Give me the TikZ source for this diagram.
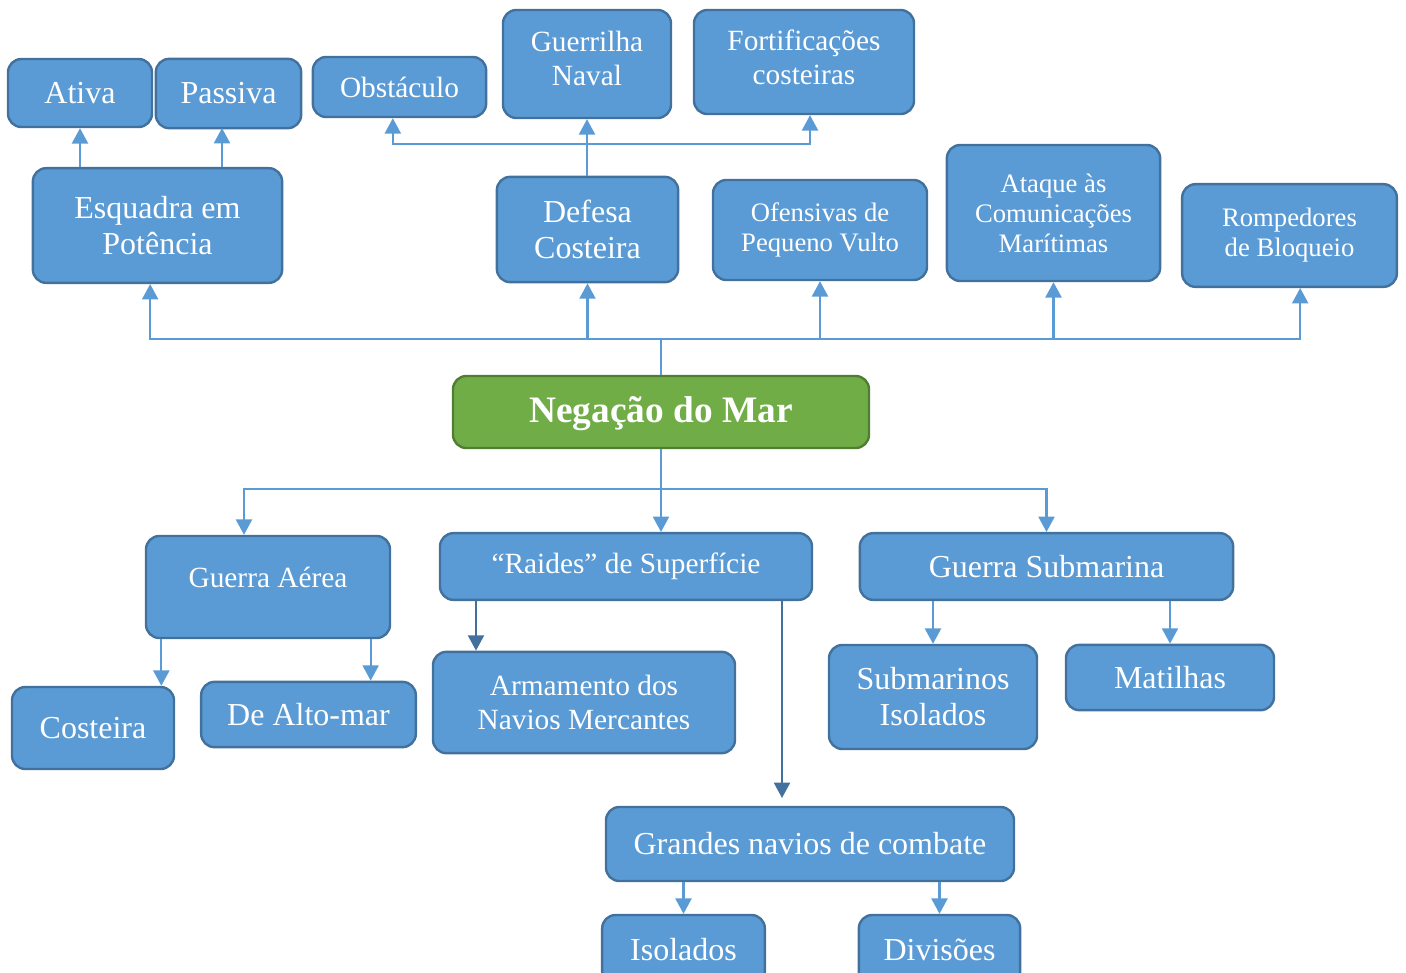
\documentclass[tikz,border=0pt]{standalone}
\usepackage{fontspec}
\setmainfont{Liberation Serif}
\usetikzlibrary{arrows.meta}
\definecolor{blu}{RGB}{91,155,213}
\definecolor{bdr}{RGB}{65,113,156}
\definecolor{grn}{RGB}{112,173,71}
\definecolor{gbd}{RGB}{80,126,50}
\newcommand\fszA{\fontsize{24}{27}\selectfont}
\newcommand\fszB{\fontsize{22}{25.5}\selectfont}
\newcommand\fszC{\fontsize{20}{22.5}\selectfont}

\begin{document}
\begin{tikzpicture}[x=0.75pt,y=-0.75pt,>={Triangle[length=11.5pt,width=12pt]},
  blk/.style={draw=bdr,line width=1.8pt,rounded corners=10pt,fill=blu,text=white,align=center,inner sep=2pt},
  root/.style={draw=gbd,line width=1.8pt,rounded corners=10pt,fill=grn,text=white,align=center,font=\bfseries\fontsize{28}{32}\selectfont},
  con/.style={draw=blu,line width=1.6pt},
  cdk/.style={draw=bdr,line width=1.6pt}]
  \clip (0,0) rectangle (1406,972);
  % upper branch
  \node[blk,font=\fszA,minimum width=108pt,minimum height=51pt] (ati) at (80,93) {Ativa};
  \node[blk,font=\fszA,minimum width=109pt,minimum height=52pt] (pas) at (228.5,93.5) {Passiva};
  \node[blk,font=\fszB,minimum width=130pt,minimum height=45pt] (obs) at (399.5,87) {Obstáculo};
  \node[blk,font=\fszB,minimum width=126pt,minimum height=81pt,text depth=8pt] (gue) at (587,64) {Guerrilha\\Naval};
  \node[blk,font=\fszB,minimum width=165pt,minimum height=78pt,text depth=8pt] (fort) at (804,62) {Fortificações\\costeiras};
  \node[blk,font=\fszA,minimum width=187pt,minimum height=86pt] (esq) at (157.5,225.5) {Esquadra em\\Potência};
  \node[blk,font=\fszA,minimum width=136pt,minimum height=79pt] (def) at (587.5,229.5) {Defesa\\Costeira};
  \node[blk,font=\fszC,minimum width=160.5pt,minimum height=75pt] (ofe) at (820,230) {Ofensivas de\\Pequeno Vulto};
  \node[blk,font=\fszC,minimum width=160pt,minimum height=102pt] (ata) at (1053.5,213) {Ataque às\\Comunicações\\Marítimas};
  \node[blk,font=\fszC,minimum width=161pt,minimum height=77pt] (rom) at (1289.5,235.5) {Rompedores\\de Bloqueio};
  % root
  \node[root,minimum width=312pt,minimum height=54pt,text height=22pt] (neg) at (661,412) {Negação do Mar};
  % lower branch
  \node[blk,font=\fszB,minimum width=183pt,minimum height=76.5pt,text depth=15pt] (aer) at (268,587) {Guerra Aérea};
  \node[blk,font=\fszB,minimum width=279pt,minimum height=50pt] (rai) at (626,566.5) {“Raides” de Superfície};
  \node[blk,font=\fszA,minimum width=280pt,minimum height=50pt] (sub) at (1046.5,566.5) {Guerra Submarina};
  \node[blk,font=\fszA,minimum width=121.5pt,minimum height=61.5pt] (cos) at (93,728) {Costeira};
  \node[blk,font=\fszA,minimum width=161pt,minimum height=49pt] (alt) at (308.5,714.5) {De Alto-mar};
  \node[blk,font=\fszB,minimum width=226.5pt,minimum height=76pt] (arm) at (584,702.5) {Armamento dos\\Navios Mercantes};
  \node[blk,font=\fszA,minimum width=156pt,minimum height=78pt] (iso) at (933,697) {Submarinos\\Isolados};
  \node[blk,font=\fszA,minimum width=156pt,minimum height=49pt] (mat) at (1170,677.5) {Matilhas};
  \node[blk,font=\fszA,minimum width=306pt,minimum height=55.5pt] (gra) at (810,844) {Grandes navios de combate};
  \node[blk,font=\fszA,minimum width=122pt,minimum height=52.5pt] (isl) at (683.5,950) {Isolados};
  \node[blk,font=\fszA,minimum width=121pt,minimum height=52.5pt] (div) at (939.5,950) {Divisões};
  % coordinates for buses and free ends
  \coordinate (tb) at (661,339);
  \coordinate (db) at (587,144);
  \coordinate (bb) at (661,489);
  \coordinate (p1) at (222,128);
  \coordinate (gtop) at (782,798);
  % connectors up
  \draw[con] (neg.north) -- (tb);
  \draw[con,->] (tb) -| ([xshift=-5.5pt]esq.south);
  \draw[con,->] (tb) -| (def.south);
  \draw[con,->] (tb) -| (ofe.south);
  \draw[con,->] (tb) -| (ata.south);
  \draw[con,->] (tb) -| ([xshift=8pt]rom.south);
  \draw[con,->] (ati.south |- esq.north) -- (ati.south);
  \draw[con,->] (p1 |- esq.north) -- (p1);
  \draw[con,->] (gue.south |- def.north) -- (gue.south);
  \draw[con,->] (db) -| ([xshift=-5pt]obs.south);
  \draw[con,->] (db) -| ([xshift=4.5pt]fort.south);
  % connectors down
  \draw[con,->] (neg.south) -- (neg.south |- rai.north);
  \draw[con,->] (bb) -| ([xshift=-18pt]aer.north);
  \draw[con,->] (bb) -| (sub.north);
  \draw[con,->] ([xshift=-80pt]aer.south) -- ([xshift=-80pt]aer.south |- cos.north);
  \draw[con,->] ([xshift=77pt]aer.south) -- ([xshift=77pt]aer.south |- alt.north);
  \draw[cdk,->] ([xshift=-112.5pt]rai.south) -- ([xshift=-112.5pt]rai.south |- arm.north);
  \draw[cdk,->] (gtop |- rai.south) -- (gtop);
  \draw[con,->] (iso.north |- sub.south) -- (iso.north);
  \draw[con,->] (mat.north |- sub.south) -- (mat.north);
  \draw[con,->] (isl.north |- gra.south) -- (isl.north);
  \draw[con,->] (div.north |- gra.south) -- (div.north);
\end{tikzpicture}
\end{document}
